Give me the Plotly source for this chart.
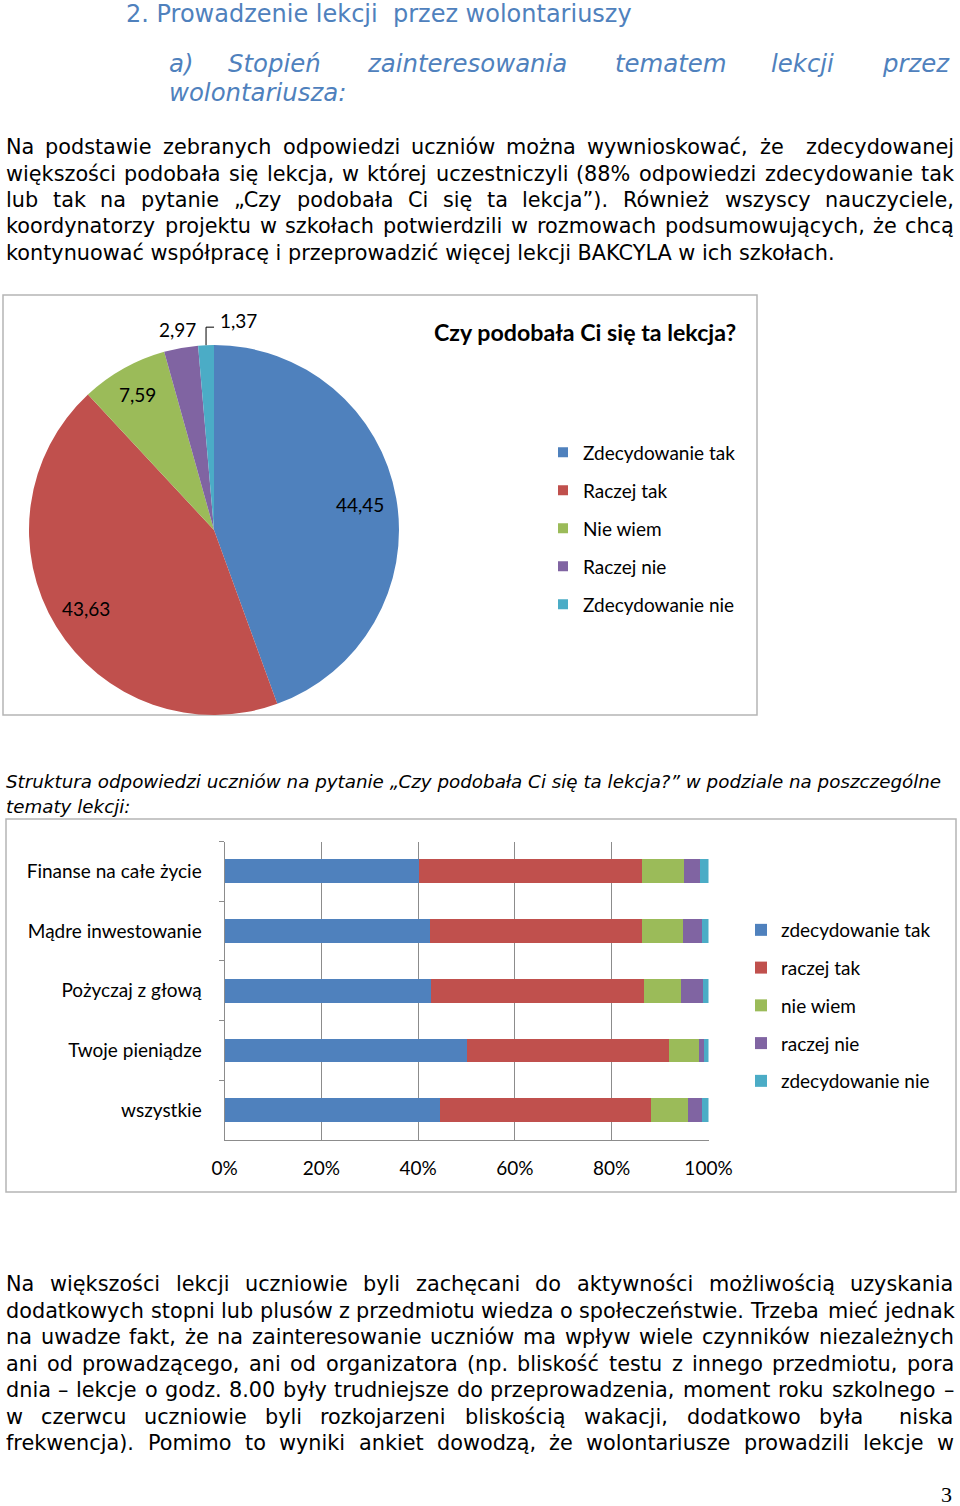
import math
import plotly.graph_objects as go

W, H = 960, 1506

# ---------------- data ----------------
pie_labels = ["Zdecydowanie tak", "Raczej tak", "Nie wiem", "Raczej nie", "Zdecydowanie nie"]
pie_values = [44.45, 43.63, 7.59, 2.97, 1.37]

bar_topics = ["Finanse na całe życie", "Mądre inwestowanie", "Pożyczaj z głową",
              "Twoje pieniądze", "wszystkie"]
bar_series_names = ["zdecydowanie tak", "raczej tak", "nie wiem", "raczej nie", "zdecydowanie nie"]
bar_zdecydowanie_tak = [40.1, 42.5, 42.6, 50.2, 44.45]
bar_raczej_tak = [46.1, 43.7, 44.0, 41.6, 43.63]
bar_nie_wiem = [8.7, 8.5, 7.8, 6.2, 7.59]
bar_raczej_nie = [3.3, 3.9, 4.4, 1.0, 2.97]
bar_zdecydowanie_nie = [1.8, 1.4, 1.2, 1.0, 1.37]
x_ticks = [0, 20, 40, 60, 80, 100]
x_tick_labels = ["0%", "20%", "40%", "60%", "80%", "100%"]

colors = ["#4F81BD", "#C0504D", "#9BBB59", "#8064A2", "#4BACC6"]

title_text = "2. Prowadzenie lekcji  przez wolontariuszy"
heading_words = ["a)", "Stopień", "zainteresowania", "tematem", "lekcji", "przez"]
heading_line2 = "wolontariusza:"
para1 = [
    "Na podstawie zebranych odpowiedzi uczniów można wywnioskować, że  zdecydowanej",
    "większości podobała się lekcja, w której uczestniczyli (88% odpowiedzi zdecydowanie tak",
    "lub tak na pytanie „Czy podobała Ci się ta lekcja”). Również wszyscy nauczyciele,",
    "koordynatorzy projektu w szkołach potwierdzili w rozmowach podsumowujących, że chcą",
    "kontynuować współpracę i przeprowadzić więcej lekcji BAKCYLA w ich szkołach.",
]
caption = [
    "Struktura odpowiedzi uczniów na pytanie „Czy podobała Ci się ta lekcja?” w podziale na poszczególne",
    "tematy lekcji:",
]
para2 = [
    "Na większości lekcji uczniowie byli zachęcani do aktywności możliwością uzyskania",
    "dodatkowych stopni lub plusów z przedmiotu wiedza o społeczeństwie. Trzeba mieć jednak",
    "na uwadze fakt, że na zainteresowanie uczniów ma wpływ wiele czynników niezależnych",
    "ani od prowadzącego, ani od organizatora (np. bliskość testu z innego przedmiotu, pora",
    "dnia – lekcje o godz. 8.00 były trudniejsze do przeprowadzenia, moment roku szkolnego –",
    "w czerwcu uczniowie byli rozkojarzeni bliskością wakacji, dodatkowo była  niska",
    "frekwencja). Pomimo to wyniki ankiet dowodzą, że wolontariusze prowadzili lekcje w",
]
pie_title = "Czy podobała Ci się ta lekcja?"
page_number = "3"


def X(px):
    return px / W


def Y(py):
    return 1 - py / H


BODY_FONT = "DejaVu Sans"
CHART_FONT = "Lato"
CF = 19
BODY_SIZE = 20.8
BLUE_HEAD = "#4F81BD"

# approximate DejaVu Sans advance widths (units per em = 2048), used only for justified text layout
_ADV = {
    " ": 651, "!": 821, '"': 942, "%": 1946, "(": 799, ")": 799, ",": 651, "-": 739, ".": 651,
    ":": 690, "?": 1087, "„": 1063, "”": 1063, "–": 1024,
    "A": 1401, "B": 1405, "C": 1430, "D": 1577, "E": 1294, "F": 1178, "G": 1587, "H": 1540,
    "I": 604, "J": 604, "K": 1343, "L": 1141, "M": 1767, "N": 1532, "O": 1612, "P": 1235,
    "R": 1423, "S": 1300, "T": 1251, "U": 1499, "W": 2025, "Y": 1251, "Z": 1403,
    "a": 1255, "b": 1300, "c": 1126, "d": 1300, "e": 1260, "f": 721, "g": 1300, "h": 1298,
    "i": 569, "j": 569, "k": 1186, "l": 569, "m": 1995, "n": 1298, "o": 1253, "p": 1300,
    "q": 1300, "r": 842, "s": 1067, "t": 803, "u": 1298, "v": 1212, "w": 1675, "x": 1212,
    "y": 1212, "z": 1075,
}
_BASE = {"ą": "a", "ć": "c", "ę": "e", "ł": "l", "ń": "n", "ó": "o", "ś": "s", "ź": "z", "ż": "z",
         "Ś": "S", "Ż": "Z", "Ł": "L"}
for d in "0123456789":
    _ADV[d] = 1303


def text_width(s, size):
    tot = 0
    for ch in s:
        ch = _BASE.get(ch, ch)
        tot += _ADV.get(ch, 1250) + (40 if ch == "l" and False else 0)
    return tot / 2048 * size


# pie geometry (pixels)
PIE_L, PIE_R, PIE_T, PIE_B = 29, 399, 345, 715
PCX, PCY = (PIE_L + PIE_R) / 2, (PIE_T + PIE_B) / 2
PR = (PIE_R - PIE_L) / 2

fig = go.Figure()

# ---------------- pie ----------------
fig.add_trace(go.Pie(
    labels=pie_labels, values=pie_values, sort=False, direction="clockwise", rotation=0,
    marker=dict(colors=colors, line=dict(width=0)),
    textinfo="none",
    domain=dict(x=[X(PIE_L), X(PIE_R)], y=[Y(PIE_B), Y(PIE_T)]),
    showlegend=False, hoverinfo="label+value",
))

# pie legend entries
for name, col in zip(pie_labels, colors):
    fig.add_trace(go.Scatter(
        x=[None], y=[None], mode="markers", name=name,
        marker=dict(symbol="square", size=10, color=col),
        legend="legend", legendgroup="p_" + name, showlegend=True,
        xaxis="x", yaxis="y", hoverinfo="skip",
    ))

# ---------------- stacked bars ----------------
bar_series = [bar_zdecydowanie_tak, bar_raczej_tak, bar_nie_wiem, bar_raczej_nie, bar_zdecydowanie_nie]
for name, vals, col in zip(bar_series_names, bar_series, colors):
    fig.add_trace(go.Bar(
        y=bar_topics, x=vals, orientation="h", name=name,
        marker=dict(color=col, line=dict(width=0)),
        legend="legend2", legendgroup="b_" + name,
        xaxis="x", yaxis="y", hovertemplate="%{y}: %{x:.2f}%<extra>" + name + "</extra>",
    ))

annotations = []
shapes = []


def text(x, y, s, size, family=BODY_FONT, color="#000000", xanchor="left", bold=False, italic=False):
    if bold:
        s = "<b>" + s + "</b>"
    if italic:
        s = "<i>" + s + "</i>"
    annotations.append(dict(
        x=X(x), y=Y(y), xref="paper", yref="paper", text=s, showarrow=False,
        xanchor=xanchor, yanchor="middle", align="left",
        font=dict(family=family, size=size, color=color),
    ))


def justified(x0, x1, y, line, size):
    words = line.split(" ")
    widths = [text_width(w, size) for w in words]
    gaps = len(words) - 1
    g = (x1 - x0 - sum(widths)) / gaps if gaps else 0
    x = x0
    for w, wd in zip(words, widths):
        if w:
            text(x, y, w, size)
        x += wd + g


# ---- document text ----
text(124, 14, title_text, 24, color=BLUE_HEAD)
heading_x = [167, 226, 365, 613, 769, 952]
for i, (wd, hx) in enumerate(zip(heading_words, heading_x)):
    text(hx, 64, wd, 24.4, color=BLUE_HEAD, italic=True,
         xanchor="right" if i == len(heading_words) - 1 else "left")
text(167, 93, heading_line2, 24.4, color=BLUE_HEAD, italic=True)

for i, line in enumerate(para1):
    if i < len(para1) - 1:
        justified(4, 952, 147 + i * 26.5, line, BODY_SIZE)
    else:
        text(4, 147 + i * 26.5, line, BODY_SIZE)
for i, line in enumerate(caption):
    text(4, 781 + i * 25, line, 18.3, italic=True)
for i, line in enumerate(para2):
    justified(4, 952, 1284 + i * 26.5, line, BODY_SIZE)

text(954, 1494, page_number, 22, family="Liberation Serif", xanchor="right")
text(585, 332, pie_title, 23.2, family=CHART_FONT, bold=True)
annotations[-1]["xanchor"] = "center"

# ---- pie data labels (positions derived from the values) ----
label_radius = [0.80, 0.81, 0.84, 1.10, None]
total = sum(pie_values)
cum = 0.0
for v, k in zip(pie_values, label_radius):
    mid = (cum + v / 2) / total * 2 * math.pi
    cum += v
    lab = f"{v:.2f}".replace(".", ",")
    if k is not None:
        lx = PCX + PR * k * math.sin(mid)
        ly = PCY - PR * k * math.cos(mid)
        text(lx, ly, lab, CF, family=CHART_FONT, xanchor="center")
    else:
        ex = PCX + PR * math.sin(mid)
        ey = PCY - PR * math.cos(mid)
        shapes.append(dict(
            type="path", xref="paper", yref="paper",
            path=f"M {X(ex)},{Y(ey)} L {X(ex)},{Y(ey - 18)} L {X(ex + 8)},{Y(ey - 18)}",
            line=dict(color="#000000", width=1),
        ))
        text(ex + 12, ey - 25, lab, CF, family=CHART_FONT)

shapes += [
    dict(type="rect", xref="paper", yref="paper", x0=X(3), x1=X(757), y0=Y(715), y1=Y(295),
         line=dict(color="#b5b5b5", width=1.5), fillcolor="rgba(0,0,0,0)", layer="below"),
    dict(type="rect", xref="paper", yref="paper", x0=X(6), x1=X(956), y0=Y(1192), y1=Y(819),
         line=dict(color="#b5b5b5", width=1.5), fillcolor="rgba(0,0,0,0)", layer="below"),
]

fig.update_layout(
    width=W, height=H, autosize=False,
    margin=dict(l=0, r=0, t=0, b=0, pad=0, autoexpand=False),
    paper_bgcolor="white", plot_bgcolor="white",
    separators=", ",
    barmode="stack", barnorm="percent", bargap=0.6,
    font=dict(family=CHART_FONT, size=CF, color="#000000"),
    xaxis=dict(
        domain=[X(224.5), X(708.5)], range=[0, 100], tickvals=x_ticks, ticktext=x_tick_labels,
        showgrid=True, gridcolor="#8c8c8c", gridwidth=1,
        showline=True, linecolor="#8c8c8c", linewidth=1,
        ticks="", zeroline=False, fixedrange=True, automargin=False,
        tickfont=dict(family=CHART_FONT, size=CF, color="#000000"),
        ticklabelstandoff=11,
    ),
    yaxis=dict(
        domain=[Y(1140), Y(841.5)], autorange="reversed", type="category",
        showgrid=False, showline=True, linecolor="#8c8c8c", linewidth=1,
        ticks="outside", tickson="boundaries", ticklen=5, tickcolor="#8c8c8c",
        tickfont=dict(family=CHART_FONT, size=CF, color="#000000"),
        ticklabelstandoff=18, fixedrange=True, automargin=False,
    ),
    legend=dict(
        x=X(543), y=Y(433.5), xanchor="left", yanchor="top",
        font=dict(family=CHART_FONT, size=CF, color="#000000"),
        traceorder="grouped", tracegroupgap=10.3, bgcolor="rgba(0,0,0,0)", itemwidth=30,
    ),
    legend2=dict(
        x=X(741), y=Y(911), xanchor="left", yanchor="top",
        font=dict(family=CHART_FONT, size=CF, color="#000000"),
        traceorder="grouped", tracegroupgap=10.05, bgcolor="rgba(0,0,0,0)", itemwidth=30,
    ),
    annotations=annotations,
    shapes=shapes,
    showlegend=True,
)

fig.write_html("out.html", config={"displayModeBar": False},
               post_script="document.body.style.margin='0px';")
